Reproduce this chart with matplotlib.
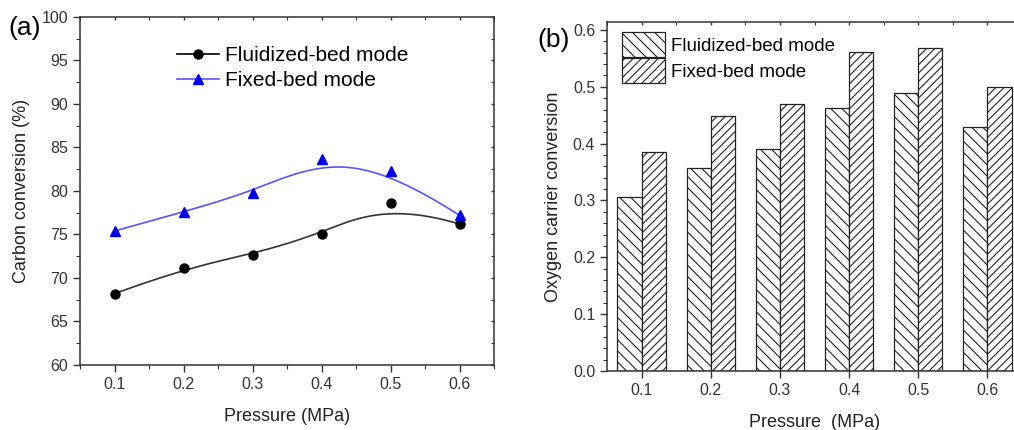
import numpy as np
import matplotlib
matplotlib.use("Agg")
import matplotlib.pyplot as plt
from matplotlib.ticker import MultipleLocator

plt.rcParams['font.family'] = ['Liberation Sans', 'DejaVu Sans']
plt.rcParams['hatch.linewidth'] = 0.8

# ---- data ----
pressure = [0.1, 0.2, 0.3, 0.4, 0.5, 0.6]
carbon_fluidized = [68.2, 71.1, 72.7, 75.1, 78.6, 76.2]
carbon_fixed = [75.4, 77.6, 79.8, 83.7, 82.3, 77.2]
oc_fluidized = [0.307, 0.358, 0.391, 0.463, 0.489, 0.430]
oc_fixed = [0.386, 0.448, 0.470, 0.562, 0.568, 0.500]
series_names = ['Fluidized-bed mode', 'Fixed-bed mode']


def bspline(px, py, n=200):
    # clamped cubic B-spline, data points used as control points (Origin style)
    pts = np.column_stack([px, py])
    k = 3
    m = len(pts)
    knots = np.concatenate([[0] * k, np.arange(m - k + 1), [m - k] * k]).astype(float)
    ts = np.linspace(0, m - k, n)
    out = []
    for t in ts:
        # Cox-de Boor basis
        N = np.zeros(len(knots) - 1)
        for i in range(len(knots) - 1):
            if knots[i] <= t < knots[i + 1] or (t == knots[-1] and knots[i] < t <= knots[i + 1]):
                N[i] = 1.0
        for d in range(1, k + 1):
            Nn = np.zeros(len(knots) - 1 - d)
            for i in range(len(Nn)):
                a = 0.0
                if knots[i + d] != knots[i]:
                    a = (t - knots[i]) / (knots[i + d] - knots[i]) * N[i]
                b = 0.0
                if knots[i + d + 1] != knots[i + 1]:
                    b = (knots[i + d + 1] - t) / (knots[i + d + 1] - knots[i + 1]) * N[i + 1]
                Nn[i] = a + b
            N = Nn
        out.append(N[:m] @ pts)
    out = np.array(out)
    return out[:, 0], out[:, 1]


def style_axes(ax):
    for s in ax.spines.values():
        s.set_color('#333333')
        s.set_linewidth(1.1)
    ax.tick_params(which='both', direction='out', color='#333333', labelsize=11.5,
                   labelcolor='#333333')
    ax.tick_params(which='major', length=5, width=1)
    ax.tick_params(which='minor', length=3, width=0.8)
    # tiny inward ticks on top / right
    ax.tick_params(which='both', top=True, right=True)
    ax.tick_params(axis='x', which='both', top=True)
    for t in ax.xaxis.get_major_ticks() + ax.xaxis.get_minor_ticks():
        t.tick2line.set_markersize(2.5)
        t.tick2line.set_marker(3)  # TICKDOWN
    for t in ax.yaxis.get_major_ticks() + ax.yaxis.get_minor_ticks():
        t.tick2line.set_markersize(2.5)
        t.tick2line.set_marker(0)  # TICKLEFT


fig = plt.figure(figsize=(10.14, 4.30), dpi=100)

# ---- panel (a) ----
ax1 = fig.add_axes([80 / 1014, 1 - 365 / 430, (494 - 80) / 1014, (365 - 17) / 430])
bx, by = bspline(pressure, carbon_fluidized)
ax1.plot(bx, by, color='#333333', lw=1.2)
ax1.plot(pressure, carbon_fluidized, 'o', color='black', ms=6.5)
bx, by = bspline(pressure, carbon_fixed)
ax1.plot(bx, by, color='#5555ff', lw=1.2)
ax1.plot(pressure, carbon_fixed, '^', color='#0000ee', ms=7)
# legend handles
h1, = ax1.plot([], [], '-o', color='black', ms=6.5, lw=1.2, markerfacecolor='black')
h2, = ax1.plot([], [], '-^', color='#5555ff', ms=7, lw=1.2, markerfacecolor='#0000ee',
               markeredgecolor='#0000ee')
ax1.legend([h1, h2], series_names, loc='upper left', bbox_to_anchor=(0.19, 0.97),
           frameon=False, fontsize=15, handlelength=2.0, handletextpad=0.3,
           labelspacing=0.3)
ax1.set_xlim(0.05, 0.65)
ax1.set_ylim(60, 100)
ax1.set_xticks(pressure)
ax1.xaxis.set_minor_locator(MultipleLocator(0.05))
ax1.yaxis.set_major_locator(MultipleLocator(5))
ax1.yaxis.set_minor_locator(MultipleLocator(2.5))
style_axes(ax1)
ax1.set_xlabel('Pressure (MPa)', fontsize=13, labelpad=12, color='#222222')
ax1.set_ylabel('Carbon conversion (%)', fontsize=13, labelpad=8, color='#222222')
fig.text(8 / 1014, 1 - 28 / 430, '(a)', fontsize=19, va='center', ha='left')

# ---- panel (b) ----
ax2 = fig.add_axes([607 / 1014, 1 - 371 / 430, (1022 - 607) / 1014, (371 - 22) / 430])
w = 0.035
ax2.bar(np.array(pressure) - w, oc_fluidized, width=w, align='edge', color='white',
        edgecolor='#222222', hatch='\\\\\\', linewidth=0.9, label=series_names[0])
ax2.bar(np.array(pressure), oc_fixed, width=w, align='edge', color='white',
        edgecolor='#222222', hatch='////', linewidth=0.9, label=series_names[1])
ax2.legend(loc='upper left', bbox_to_anchor=(-0.005, 1.02), frameon=False, fontsize=13.5,
           handlelength=2.3, handleheight=1.7, handletextpad=0.3, labelspacing=0.05)
ax2.set_xlim(0.05, 0.65)
ax2.set_ylim(0, 0.614)
ax2.set_xticks(pressure)
ax2.xaxis.set_minor_locator(MultipleLocator(0.05))
ax2.yaxis.set_major_locator(MultipleLocator(0.1))
ax2.yaxis.set_minor_locator(MultipleLocator(0.02))
ax2.yaxis.set_major_formatter(matplotlib.ticker.FormatStrFormatter('%.1f'))
style_axes(ax2)
ax2.tick_params(axis='x', which='minor', bottom=False)
ax2.set_xlabel('Pressure  (MPa)', fontsize=13, labelpad=12, color='#222222')
ax2.set_ylabel('Oxygen carrier conversion', fontsize=13, labelpad=8, color='#222222')
fig.text(537 / 1014, 1 - 40 / 430, '(b)', fontsize=19, va='center', ha='left')

fig.savefig('out.png', dpi=100)
